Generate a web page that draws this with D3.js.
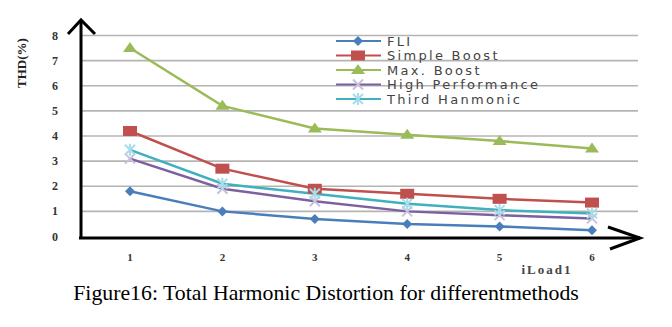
<!DOCTYPE html>
<html><head><meta charset="utf-8">
<script src="https://cdn.jsdelivr.net/npm/d3@7"></script>
<style>body{margin:0;background:#fff}svg{display:block}</style>
</head><body><div id="c"></div>
<script>
const loads = [1, 2, 3, 4, 5, 6];
const yTicks = [0, 1, 2, 3, 4, 5, 6, 7, 8];
const seriesNames = ["FLI", "Simple Boost", "Max. Boost", "High Performance", "Third Hanmonic"];
const fli = [1.8, 1.0, 0.7, 0.5, 0.4, 0.25];
const simpleBoost = [4.2, 2.7, 1.9, 1.7, 1.5, 1.35];
const maxBoost = [7.5, 5.2, 4.3, 4.05, 3.8, 3.5];
const highPerf = [3.1, 1.9, 1.4, 1.0, 0.85, 0.72];
const thirdHarm = [3.45, 2.1, 1.7, 1.3, 1.05, 0.92];
const colors = ["#4a7ebb", "#c0504d", "#9bbb59", "#7d60a0", "#40b0be"];
const markers = ["diamond", "square", "triangle", "x", "star"];
const allSeries = [fli, simpleBoost, maxBoost, highPerf, thirdHarm];

const W = 672, H = 327;
const svg = d3.select("#c").append("svg").attr("width", W).attr("height", H);

const x = d3.scalePoint().domain(loads).range([130, 592]);
const y = d3.scaleLinear().domain([0, 8]).range([236.5, 35.5]);

// gridlines
svg.append("g").selectAll("line").data(yTicks.filter(d => d > 0)).join("line")
  .attr("x1", 82).attr("x2", 638)
  .attr("y1", d => y(d)).attr("y2", d => y(d))
  .attr("stroke", "#b4b4b4").attr("stroke-width", 1.6);

// y tick labels
svg.append("g").selectAll("text").data(yTicks).join("text")
  .attr("x", 55).attr("y", d => y(d) + 4)
  .attr("text-anchor", "middle")
  .attr("font-family", "Liberation Serif, serif").attr("font-weight", "bold")
  .attr("font-size", 12).attr("fill", "#333")
  .text(d => d);

// x tick labels
svg.append("g").selectAll("text").data(loads).join("text")
  .attr("x", d => x(d)).attr("y", 261)
  .attr("text-anchor", "middle")
  .attr("font-family", "Liberation Serif, serif").attr("font-weight", "bold")
  .attr("font-size", 11).attr("fill", "#333")
  .text(d => d);

// x axis title
svg.append("text").attr("x", 547).attr("y", 274).attr("text-anchor", "middle")
  .attr("font-family", "Liberation Serif, serif").attr("font-weight", "bold")
  .attr("font-size", 13).attr("fill", "#444").attr("letter-spacing", 2)
  .text("iLoad1");

// y axis title
svg.append("text").attr("transform", "translate(26,63) rotate(-90)")
  .attr("text-anchor", "middle")
  .attr("font-family", "Liberation Serif, serif").attr("font-weight", "bold")
  .attr("font-size", 13).attr("fill", "#222")
  .text("THD(%)");

// series lines
const line = d3.line().x((d, i) => x(loads[i])).y(d => y(d));
allSeries.forEach((s, k) => {
  svg.append("path").datum(s).attr("d", line).attr("fill", "none")
    .attr("stroke", colors[k]).attr("stroke-width", 2.5);
});

function drawMarker(g, type, cx, cy, col) {
  if (type === "diamond") {
    g.append("path").attr("d", `M${cx},${cy-5}L${cx+5},${cy}L${cx},${cy+5}L${cx-5},${cy}Z`).attr("fill", col);
  } else if (type === "square") {
    g.append("rect").attr("x", cx-7).attr("y", cy-5).attr("width", 14).attr("height", 10).attr("fill", col);
  } else if (type === "triangle") {
    g.append("path").attr("d", `M${cx},${cy-6}L${cx+7},${cy+4}L${cx-7},${cy+4}Z`).attr("fill", col);
  } else if (type === "x") {
    g.append("path").attr("d", `M${cx-5},${cy-5}L${cx+5},${cy+5}M${cx-5},${cy+5}L${cx+5},${cy-5}`).attr("stroke", "#c8c0dc").attr("stroke-width", 2);
  } else {
    g.append("path").attr("d", `M${cx-5},${cy-5}L${cx+5},${cy+5}M${cx-5},${cy+5}L${cx+5},${cy-5}M${cx},${cy-6}L${cx},${cy+6}`).attr("stroke", "#a8dce8").attr("stroke-width", 2);
  }
}

allSeries.forEach((s, k) => {
  const g = svg.append("g");
  s.forEach((v, i) => drawMarker(g, markers[k], x(loads[i]), y(v), colors[k]));
});

// axes lines with arrows
svg.append("path").attr("d", "M81,239V21").attr("stroke", "#000").attr("stroke-width", 3).attr("fill", "none");
svg.append("path").attr("d", "M68,34L81,20L95,34").attr("stroke", "#000").attr("stroke-width", 3).attr("fill", "none");
svg.append("path").attr("d", "M79,238H640").attr("stroke", "#000").attr("stroke-width", 3).attr("fill", "none");
svg.append("path").attr("d", "M608,227L640,238L610,249").attr("stroke", "#000").attr("stroke-width", 3).attr("fill", "none");

// legend
const leg = svg.append("g");
seriesNames.forEach((n, k) => {
  const ly = 41 + k * 14.5;
  leg.append("line").attr("x1", 336).attr("x2", 381).attr("y1", ly).attr("y2", ly)
    .attr("stroke", colors[k]).attr("stroke-width", 2);
  drawMarker(leg, markers[k], 358, ly, colors[k]);
  leg.append("text").attr("x", 387).attr("y", ly + 4.5)
    .attr("font-family", "DejaVu Sans, Verdana, sans-serif").attr("font-size", 13)
    .attr("fill", "#444").attr("letter-spacing", 2.3)
    .text(n);
});

// caption
svg.append("text").attr("x", 326).attr("y", 300).attr("text-anchor", "middle")
  .attr("font-family", "Liberation Serif, Times New Roman, serif").attr("font-size", 21.8)
  .attr("fill", "#000")
  .text("Figure16: Total Harmonic Distortion for differentmethods");
</script>
</body></html>
